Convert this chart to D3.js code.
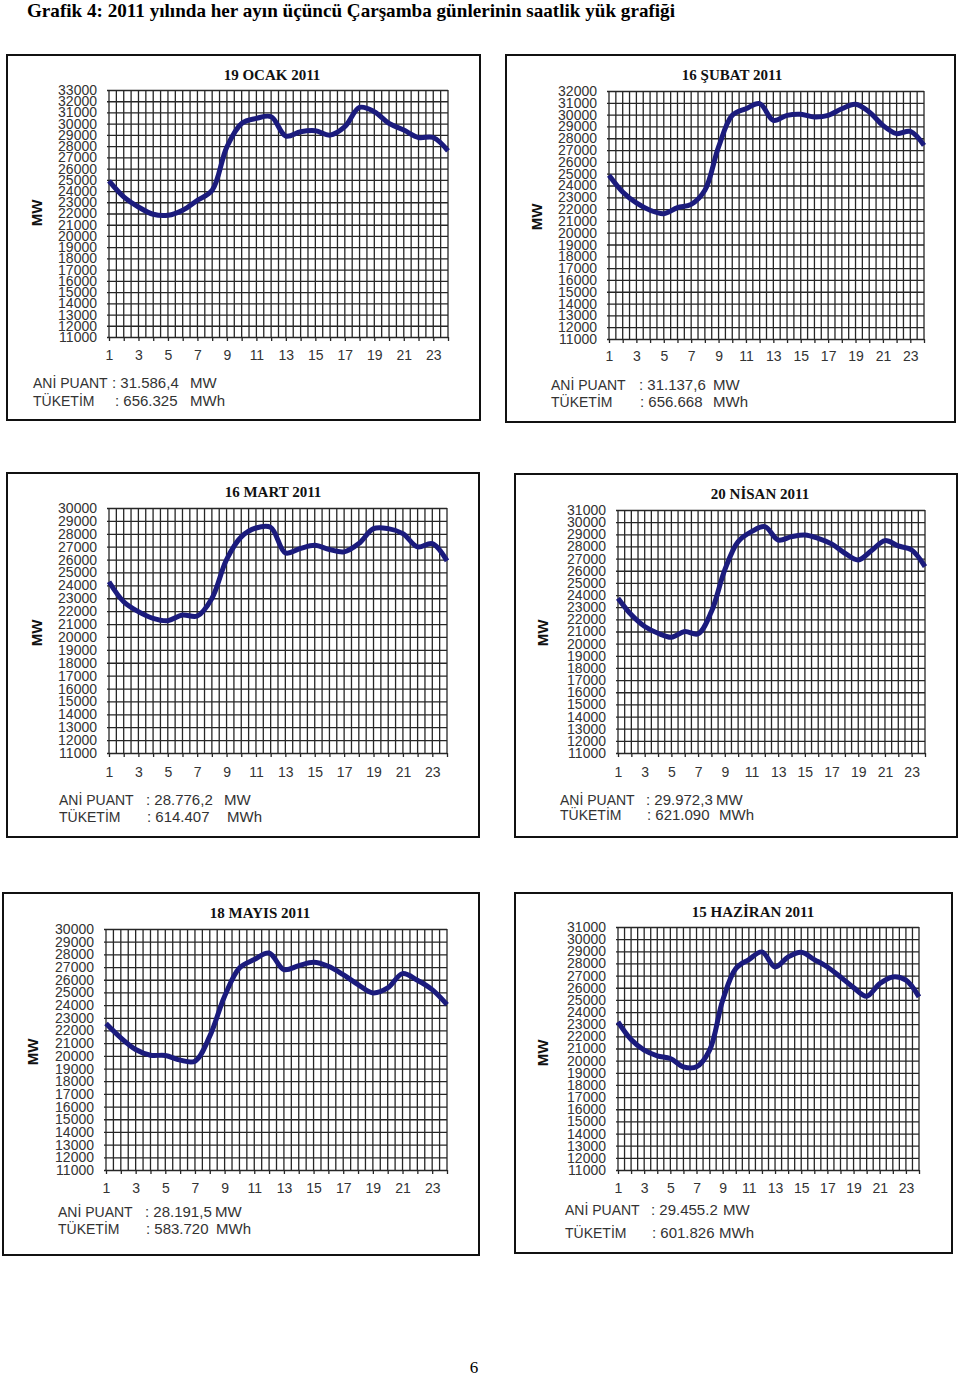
<!DOCTYPE html>
<html>
<head>
<meta charset="utf-8">
<script src="https://cdn.jsdelivr.net/npm/d3@7"></script>
<style>
  html, body { margin: 0; padding: 0; background: #fff; }
  svg { display: block; }
</style>
</head>
<body>
<svg id="chart" width="960" height="1378"></svg>
<script>
// ---------------- DATA ----------------
const hours = d3.range(1, 25);
const ocak    = [24900, 23480, 22580, 21930, 21840, 22290, 23180, 24070, 27940, 30020, 30470, 30620, 28890, 29280, 29370, 28980, 29730, 31450, 31070, 30020, 29430, 28770, 28770, 27580];
const subat   = [24860, 23450, 22520, 21900, 21610, 22120, 22400, 23590, 27260, 29940, 30500, 30930, 29520, 29940, 30030, 29800, 29940, 30500, 30870, 30220, 29090, 28390, 28580, 27400];
const mart    = [24280, 22730, 21960, 21440, 21260, 21700, 21620, 22990, 26000, 27760, 28450, 28500, 26520, 26850, 27110, 26780, 26600, 27240, 28400, 28400, 28010, 26980, 27240, 25900];
const nisan   = [23740, 22370, 21410, 20860, 20530, 21000, 20810, 22640, 26070, 28400, 29220, 29630, 28530, 28810, 28950, 28670, 28210, 27440, 26890, 27660, 28480, 28040, 27710, 26340];
const mayis   = [22550, 21420, 20500, 20050, 20030, 19660, 19580, 21550, 24700, 26930, 27590, 28110, 26800, 27110, 27380, 27060, 26400, 25620, 24960, 25350, 26480, 25960, 25220, 24040];
const haziran = [23190, 21740, 20860, 20400, 20180, 19490, 19490, 20860, 24970, 27580, 28320, 28950, 27710, 28530, 28920, 28320, 27710, 26890, 26010, 25300, 26340, 26890, 26620, 25250];

const titles = ["19 OCAK 2011", "16 ŞUBAT 2011", "16 MART 2011", "20 NİSAN 2011", "18 MAYIS 2011", "15 HAZİRAN 2011"];
const yMin = 11000;
const yMaxes = [33000, 32000, 30000, 31000, 30000, 31000];
const peakLabel = "ANİ PUANT";
const consLabel = "TÜKETİM";
const peakValues = ["31.586,4", "31.137,6", "28.776,2", "29.972,3", "28.191,5", "29.455.2"];
const consValues = ["656.325", "656.668", "614.407", "621.090", "583.720", "601.826"];
const series = [ocak, subat, mart, nisan, mayis, haziran];

const pageTitle = "Grafik 4: 2011 yılında her ayın üçüncü Çarşamba günlerinin saatlik yük grafiği";
const pageNumber = "6";

// ---------------- LAYOUT ----------------
const layout = [
  { frame:[7,55,480,420],   xr:[109,448], yr:[337,90],  title:[272,75],  mw:[37,213],  xl:355, a1:[33,383,112,190],  a2:[33,401,115,190] },
  { frame:[506,55,955,422], xr:[609,924], yr:[339,91],  title:[732,75],  mw:[537,217], xl:356, a1:[551,385,639,713], a2:[551,402,640,713] },
  { frame:[7,473,479,837],  xr:[109,447], yr:[753,508], title:[273,492], mw:[37,633],  xl:772, a1:[59,800,146,224],  a2:[59,817,147,227] },
  { frame:[515,474,957,837],xr:[618,925], yr:[753,510], title:[760,494], mw:[543,633], xl:772, a1:[560,800,646,716], a2:[560,815,647,719] },
  { frame:[3,893,479,1255], xr:[106,447], yr:[1170,929],title:[260,913], mw:[33,1052], xl:1188,a1:[58,1212,145,215], a2:[58,1229,146,216] },
  { frame:[515,893,952,1253],xr:[618,919],yr:[1170,927],title:[753,912], mw:[543,1053],xl:1188,a1:[565,1210,651,723], a2:[565,1233,652,719] }
];

const svg = d3.select("#chart");
const sans = "Arial, 'Liberation Sans', sans-serif";
const serif = "'Times New Roman', 'Liberation Serif', serif";

// page title
svg.append("text")
  .attr("x", 27).attr("y", 17)
  .attr("font-family", serif).attr("font-weight", "bold").attr("font-size", 19)
  .attr("textLength", 648).attr("lengthAdjust", "spacingAndGlyphs")
  .attr("fill", "#000")
  .text(pageTitle);

svg.append("text")
  .attr("x", 474).attr("y", 1373)
  .attr("text-anchor", "middle")
  .attr("font-family", serif).attr("font-size", 17)
  .attr("fill", "#000")
  .text(pageNumber);

series.forEach((vals, i) => {
  const L = layout[i];
  const g = svg.append("g");

  // frame
  g.append("rect")
    .attr("x", L.frame[0]).attr("y", L.frame[1])
    .attr("width", L.frame[2] - L.frame[0]).attr("height", L.frame[3] - L.frame[1])
    .attr("fill", "#fff").attr("stroke", "#111").attr("stroke-width", 2);

  const x = d3.scalePoint().domain(hours).range(L.xr);
  const y = d3.scaleLinear().domain([yMin, yMaxes[i]]).range(L.yr);
  const step = x.step();

  // vertical grid (every half hour)
  const vx = [];
  hours.forEach((h, k) => {
    vx.push(x(h));
    if (k < hours.length - 1) vx.push(x(h) + step / 2);
  });
  g.append("g").selectAll("line").data(vx).join("line")
    .attr("x1", d => d).attr("x2", d => d)
    .attr("y1", L.yr[1]).attr("y2", L.yr[0])
    .attr("stroke", "#262626").attr("stroke-width", 1.3);

  // horizontal grid + y labels
  const yTicks = d3.range(yMin, yMaxes[i] + 1, 1000);
  const yAxis = d3.axisLeft(y).tickValues(yTicks).tickFormat(d3.format("d"))
    .tickSize(-(L.xr[1] - L.xr[0]) - 2).tickPadding(10);
  const ya = g.append("g").attr("transform", `translate(${L.xr[0] - 2},0)`).call(yAxis);
  ya.select(".domain").remove();
  ya.selectAll(".tick line").attr("stroke", "#262626").attr("stroke-width", 1.3);
  ya.selectAll(".tick text")
    .attr("font-family", sans).attr("font-size", 14).attr("fill", "#333");

  // x axis ticks + labels
  const xAxis = d3.axisBottom(x).tickSize(4).tickPadding(6)
    .tickFormat(d => (d % 2 === 1 ? d : ""));
  const xa = g.append("g").attr("transform", `translate(0,${L.yr[0]})`).call(xAxis);
  xa.select(".domain").remove();
  xa.selectAll(".tick line").attr("stroke", "#262626").attr("stroke-width", 1.3);
  xa.selectAll(".tick text")
    .attr("font-family", sans).attr("font-size", 14).attr("fill", "#333")
    .attr("y", null).attr("dy", null)
    .attr("transform", `translate(0,${L.xl - L.yr[0] + 5})`);

  // line
  const line = d3.line()
    .x((d, k) => x(hours[k]))
    .y(d => y(d))
    .curve(d3.curveCatmullRom.alpha(0.5));
  g.append("path")
    .datum(vals)
    .attr("d", line)
    .attr("fill", "none")
    .attr("stroke", "#1b1b7d")
    .attr("stroke-width", 5)
    .attr("stroke-linejoin", "round");

  // title
  g.append("text")
    .attr("x", L.title[0]).attr("y", L.title[1] + 5)
    .attr("text-anchor", "middle")
    .attr("font-family", serif).attr("font-weight", "bold").attr("font-size", 15)
    .attr("fill", "#111")
    .text(titles[i]);

  // MW label
  g.append("text")
    .attr("transform", `translate(${L.mw[0] + 5},${L.mw[1]}) rotate(-90)`)
    .attr("text-anchor", "middle")
    .attr("font-family", sans).attr("font-weight", "bold").attr("font-size", 15)
    .attr("fill", "#111")
    .text("MW");

  // annotations
  const ann = (a, label, val, unit) => {
    const t = g.append("g").attr("font-family", sans).attr("fill", "#333");
    t.append("text").attr("x", a[0]).attr("y", a[1] + 5).attr("font-size", 14).text(label);
    t.append("text").attr("x", a[2]).attr("y", a[1] + 5).attr("font-size", 15).text(": " + val);
    t.append("text").attr("x", a[3]).attr("y", a[1] + 5).attr("font-size", 15).text(unit);
  };
  ann(L.a1, peakLabel, peakValues[i], "MW");
  ann(L.a2, consLabel, consValues[i], "MWh");
});
</script>
</body>
</html>
